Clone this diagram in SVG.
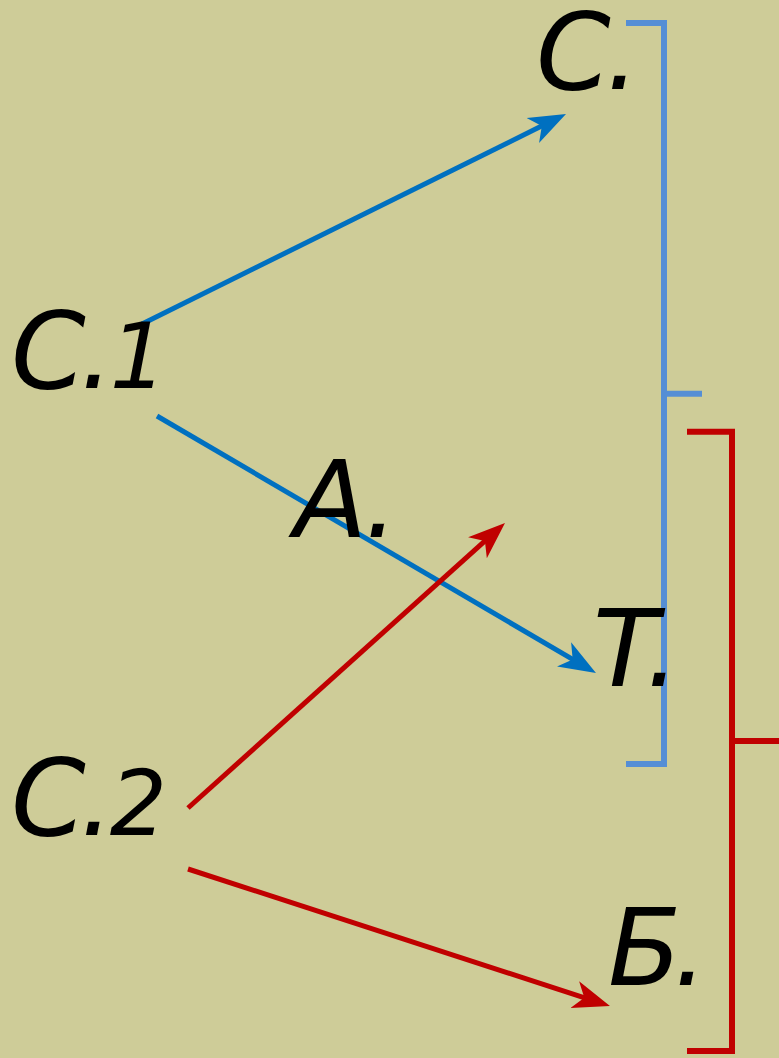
<svg xmlns="http://www.w3.org/2000/svg" width="779" height="1058" viewBox="0 0 779 1058">
<style>
.lbl{font-family:"DejaVu Sans",sans-serif;font-style:oblique;font-size:107px;fill:#000}
.dg{font-size:90px}
.blue{stroke:#0070c0;stroke-width:5;fill:none}
.red{stroke:#c00000;stroke-width:5;fill:none}
.bb{stroke:#558ed5;stroke-width:6;fill:none}
.rb{stroke:#c00000;stroke-width:6;fill:none}
</style>
<defs>
<marker id="ab" markerUnits="userSpaceOnUse" markerWidth="40" markerHeight="30" viewBox="0 -15 40 30" refX="12" refY="0" orient="auto">
<path d="M0,-14 L37,0 L0,14 L10,0 Z" fill="#0070c0"/>
</marker>
<marker id="ar" markerUnits="userSpaceOnUse" markerWidth="40" markerHeight="30" viewBox="0 -15 40 30" refX="12" refY="0" orient="auto">
<path d="M0,-14 L37,0 L0,14 L10,0 Z" fill="#c00000"/>
</marker>
</defs>
<rect width="779" height="1058" fill="#cecc98"/>
<g id="connectors">
<line class="blue" x1="142" y1="324" x2="543.6" y2="125.1" marker-end="url(#ab)"/>
<line class="blue" x1="157" y1="416" x2="574.4" y2="660.4" marker-end="url(#ab)"/>
<line class="red" x1="188" y1="808" x2="486.4" y2="539.7" marker-end="url(#ar)"/>
<line class="red" x1="188" y1="869" x2="586.2" y2="998.3" marker-end="url(#ar)"/>
</g>
<g id="bracket-blue">
<path class="bb" d="M626,23 H664 V764 H626 M664,393.7 H702"/>
</g>
<g id="bracket-red">
<path class="rb" d="M687,431.7 H732 V1051 H687 M732,741 H779"/>
</g>
<g id="node-C"><text class="lbl" x="536" y="89" letter-spacing="-5">C.</text></g>
<g id="node-C1"><text class="lbl" x="11" y="388" letter-spacing="-6">C.<tspan class="dg" dx="2">1</tspan></text></g>
<g id="node-A"><text class="lbl" x="294" y="537" letter-spacing="-5">A.</text></g>
<g id="node-T"><text class="lbl" x="593" y="686">T.</text></g>
<g id="node-C2"><text class="lbl" x="11" y="835" letter-spacing="-6">C.<tspan class="dg" dx="2">2</tspan></text></g>
<g id="node-B"><text class="lbl" x="608" y="985" letter-spacing="-8">Б.</text></g>
</svg>
